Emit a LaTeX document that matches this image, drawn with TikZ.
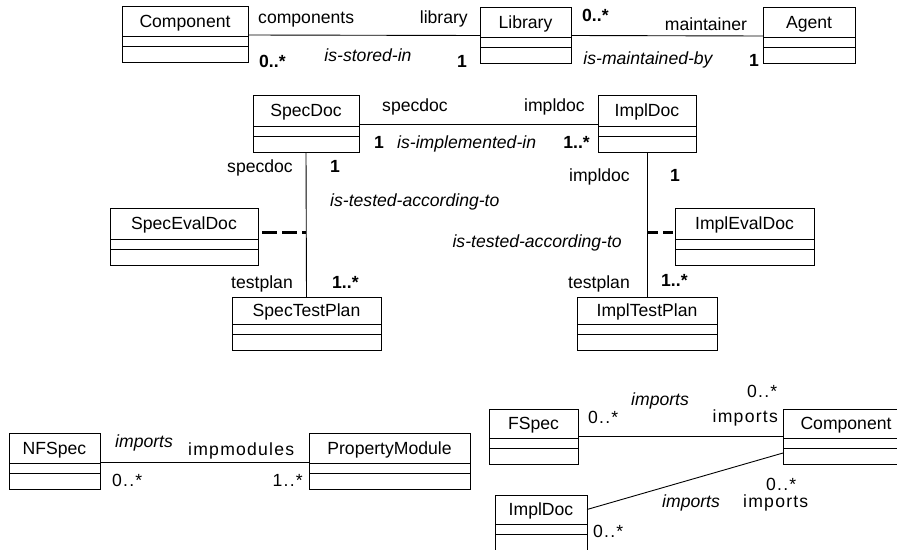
\documentclass[tikz,border=0pt]{standalone}
\usepackage{fontspec}
\setmainfont{Liberation Sans}
\usetikzlibrary{positioning}

\newcommand{\umlfont}{\fontsize{17.6}{20}\selectfont}

\tikzset{
  clshead/.style={draw, line width=0.9pt, inner sep=0pt, outer sep=0pt, text depth=0pt, font=\umlfont},
  clspart/.style={draw, line width=0.9pt, inner sep=0pt, outer sep=0pt},
  assoc/.style={line width=0.9pt},
  evaldash/.style={line width=3pt},
  role/.style={inner sep=0pt, font=\umlfont},
  assocname/.style={inner sep=0pt, font=\umlfont\itshape},
  mult/.style={inner sep=0pt, font=\umlfont\bfseries},
  spaced/.style={inner sep=0pt, font=\umlfont\addfontfeature{LetterSpace=7}},
}

% class box: name on top, then two empty compartments
\newcommand{\umlclass}[5][30pt]{%
  \node[clshead, minimum width=#4, minimum height=#1] (#2) at (#3) {#5};
  \node[clspart, minimum width=#4, minimum height=10pt, below=0pt of #2] (#2-a) {};
  \node[clspart, minimum width=#4, minimum height=16pt, below=0pt of #2-a] (#2-b) {};
}

\begin{document}
\begin{tikzpicture}[x=1pt, y=-1pt]
  \clip (0,0) rectangle (897,549);

  % top row
  \umlclass{comp}{185,21.5}{126pt}{Component}
  \umlclass{lib}{525.5,22}{91pt}{Library}
  \umlclass{agent}{809,22.5}{92pt}{Agent}
  \draw[assoc] ([yshift=1.5pt]comp.south east) -- ([yshift=1.5pt]lib.south west);
  \draw[assoc] ([yshift=1.5pt]lib.south east) -- ([yshift=1.5pt]agent.south west);
  \node[role, anchor=base west] (r-components) at (258,23) {components};
  \node[role, anchor=base east] (r-library) at (468,23) {library};
  \node[mult, anchor=base west] (m-comp) at (259,67) {0..*};
  \node[assocname, anchor=base] (a-stored) at (368,61) {is-stored-in};
  \node[mult, anchor=base] (m-lib) at (462,67) {1};
  \node[mult, anchor=base west] (m-lib2) at (582,21) {0..*};
  \node[role, anchor=base] (r-maintainer) at (706,30.5) {maintainer};
  \node[assocname, anchor=base] (a-maintained) at (648,64) {is-maintained-by};
  \node[mult, anchor=base] (m-agent) at (754,66) {1};

  % spec / impl documents
  \umlclass[31pt]{specdoc}{306,110.5}{106pt}{SpecDoc}
  \umlclass[31pt]{impldoc}{647,110.5}{98pt}{ImplDoc}
  \umlclass[31pt]{specevaldoc}{184,223.5}{148pt}{SpecEvalDoc}
  \umlclass[31pt]{implevaldoc}{744.5,223.5}{139pt}{ImplEvalDoc}
  \umlclass[27pt]{spectestplan}{306.5,310.5}{149pt}{SpecTestPlan}
  \umlclass[27pt]{impltestplan}{647,310.5}{140pt}{ImplTestPlan}

  \draw[assoc] ([yshift=2pt]specdoc.south east) -- ([yshift=2pt]impldoc.south west);
  \draw[assoc] (specdoc-b.south) -- (spectestplan.north);
  \draw[assoc] (impldoc-b.south) -- (impltestplan.north);

  % association classes
  \coordinate (specdash) at ([xshift=4pt,yshift=-8.5pt]specevaldoc.east);
  \coordinate (impldash) at ([xshift=-2pt,yshift=-8.5pt]implevaldoc.west);
  \draw[evaldash, dash pattern=on 15pt off 5pt] (specdash) -- (specdash -| specdoc.south);
  \draw[evaldash, dash pattern=on 11pt off 5pt] (impldash -| impldoc.south) -- (impldash);

  \node[role, anchor=base west] (r-specdoc) at (382,111) {specdoc};
  \node[role, anchor=base east] (r-impldoc) at (585,111) {impldoc};
  \node[mult, anchor=base] (m-specdoc) at (379,148) {1};
  \node[assocname, anchor=base west] (a-implemented) at (397,148) {is-implemented-in};
  \node[mult, anchor=base east] (m-impldoc) at (590,148) {1..*};

  \node[role, anchor=base east] (r-specdoc2) at (293,172) {specdoc};
  \node[mult, anchor=base west] (m-specdoc2) at (330,172) {1};
  \node[assocname, anchor=base west] (a-tested1) at (330,206) {is-tested-according-to};
  \node[role, anchor=base east] (r-testplan1) at (293,288) {testplan};
  \node[mult, anchor=base west] (m-testplan1) at (332,288) {1..*};

  \node[role, anchor=base east] (r-impldoc2) at (630,181) {impldoc};
  \node[mult, anchor=base west] (m-impldoc2) at (670,181) {1};
  \node[assocname, anchor=base east] (a-tested2) at (622,247) {is-tested-according-to};
  \node[role, anchor=base east] (r-testplan2) at (630,288) {testplan};
  \node[mult, anchor=base west] (m-testplan2) at (661,286) {1..*};

  % imports, left
  \umlclass{nfspec}{54.5,448}{91pt}{NFSpec}
  \umlclass{propmodule}{389.5,448}{161pt}{PropertyModule}
  \draw[assoc] ([yshift=1pt]nfspec.south east) -- ([yshift=1pt]propmodule.south west);
  \node[assocname, anchor=base west] (a-imports1) at (115,447) {imports};
  \node[spaced, anchor=base west] (r-impmodules) at (188,455) {impmodules};
  \node[spaced, anchor=base west] (m-nfspec) at (112,486) {0..*};
  \node[spaced, anchor=base east] (m-propmodule) at (303,486) {1..*};

  % imports, right
  \umlclass[29pt]{fspec}{533.5,423.5}{89pt}{FSpec}
  \umlclass[29pt]{compb}{846,423.5}{126pt}{Component}
  \umlclass[29pt]{impldocb}{541,509.5}{92pt}{ImplDoc}
  \draw[assoc] ([yshift=2pt]fspec.south east) -- ([yshift=2pt]compb.south west);
  \draw[assoc] (impldocb.east) -- ([yshift=3pt]compb-b.west);
  \node[spaced, anchor=base west] (m-fspec) at (588,423) {0..*};
  \node[assocname, anchor=base west] (a-imports2) at (631,405) {imports};
  \node[spaced, anchor=base west] (m-compb1) at (747,397) {0..*};
  \node[spaced, anchor=base east] (r-imports2) at (778,422) {imports};
  \node[assocname, anchor=base west] (a-imports3) at (662,507) {imports};
  \node[spaced, anchor=base west] (m-compb2) at (766,490) {0..*};
  \node[spaced, anchor=base west] (r-imports3) at (743,507) {imports};
  \node[spaced, anchor=base west] (m-impldocb) at (593,537) {0..*};
\end{tikzpicture}
\end{document}
